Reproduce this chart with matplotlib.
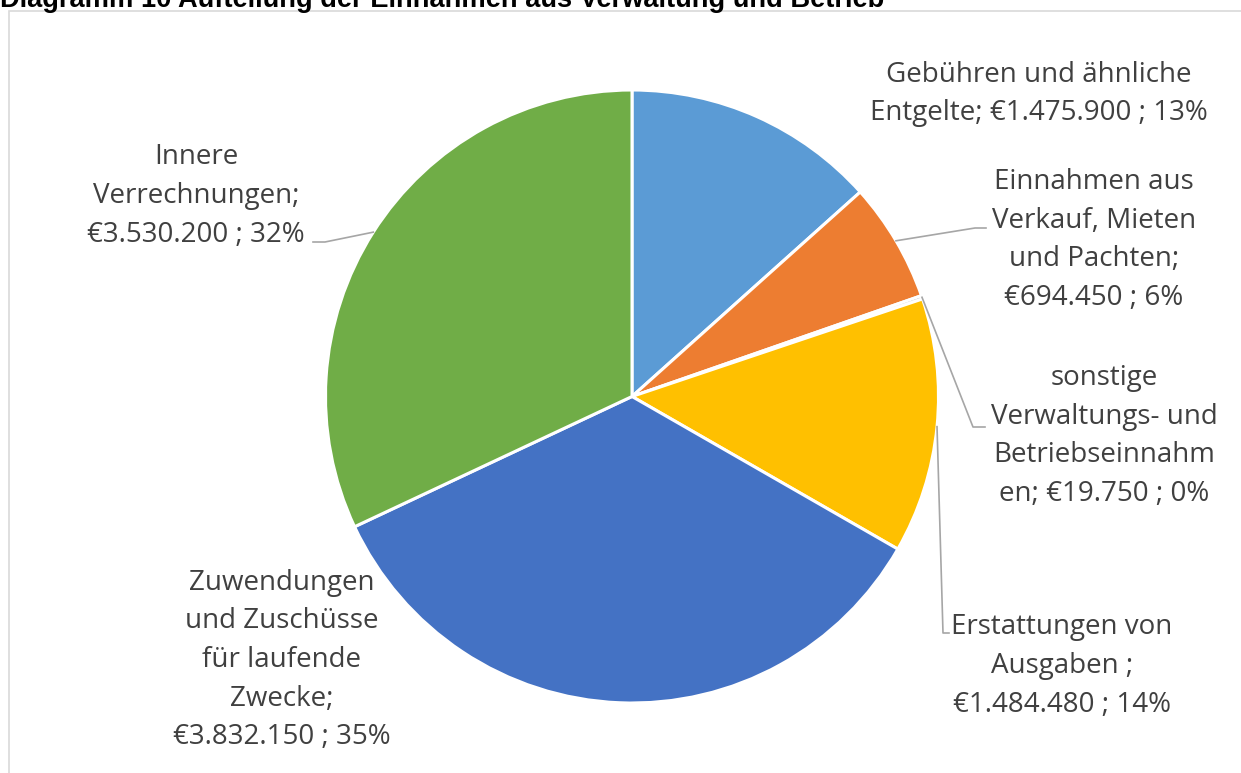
import numpy as np
import matplotlib
matplotlib.use("Agg")
import matplotlib.pyplot as plt
from matplotlib.patches import Rectangle

# data
kategorien = ["Gebühren und ähnliche\nEntgelte",
              "Einnahmen aus\nVerkauf, Mieten\nund Pachten",
              "sonstige\nVerwaltungs- und\nBetriebseinnahm\nen",
              "Erstattungen von\nAusgaben ",
              "Zuwendungen\nund Zuschüsse\nfür laufende\nZwecke",
              "Innere\nVerrechnungen"]
werte = [1475900, 694450, 19750, 1484480, 3832150, 3530200]
prozente = ["13%", "6%", "0%", "14%", "35%", "32%"]
farben = ["#5B9BD5", "#ED7D31", "#A5A5A5", "#FFC000", "#4472C4", "#70AD47"]

def euro(v):
    return "€" + f"{v:,}".replace(",", ".")

# separator between name and value (newline or "; ")
trenner = ["; ", ";\n", "; ", ";\n", ";\n", ";\n"]

W, H = 1241, 773
fig = plt.figure(figsize=(W / 100, H / 100), dpi=100)
ax = fig.add_axes([0, 0, 1, 1])

# chart frame
ax.add_patch(Rectangle((9, -5), W, H - 11 + 5, fill=False, edgecolor="#D9D9D9", lw=1.2))

# title (clipped at top as in the original)
ax.text(0, H - 7, "Diagramm 10 Aufteilung der Einnahmen aus Verwaltung und Betrieb",
        fontsize=19.6, fontweight="bold", family="Liberation Sans", color="black",
        va="baseline", ha="left")

cx, cy, r = 632, H - 396.5, 306.5
wedges, _ = ax.pie(werte, colors=farben, startangle=90, counterclock=False,
                   center=(cx, cy), radius=r, frame=True,
                   wedgeprops=dict(edgecolor="white", linewidth=2.2))
ax.set_xlim(0, W)
ax.set_ylim(0, H)
ax.axis("off")

# label positions (pixels from top-left), leader bends
lab_pos = [(1039, 94), (1094, 240), (1104, 436), (1062, 666), (282, 660), (196, 196)]
knick = [None, [(975, 228), (986, 228)], [(973, 427), (985, 427)],
         [(943, 633), (949, 633)], None, [(325, 242), (313, 242)]]

txtfarbe = "#404040"
for i, w in enumerate(wedges):
    text = kategorien[i] + trenner[i] + euro(werte[i]) + " ; " + prozente[i]
    lx, ly = lab_pos[i]
    ax.text(lx, H - ly, text, ha="center", va="center", fontsize=20,
            family="Open Sans", color=txtfarbe, linespacing=1.51)
    if knick[i] is not None:
        mid = np.deg2rad((w.theta1 + w.theta2) / 2)
        ex = cx + r * np.cos(mid)
        ey = cy + r * np.sin(mid)
        xs = [ex] + [p[0] for p in knick[i]]
        ys = [ey] + [H - p[1] for p in knick[i]]
        ax.plot(xs, ys, color="#A6A6A6", lw=1.2)

fig.savefig("out.png", dpi=100)
